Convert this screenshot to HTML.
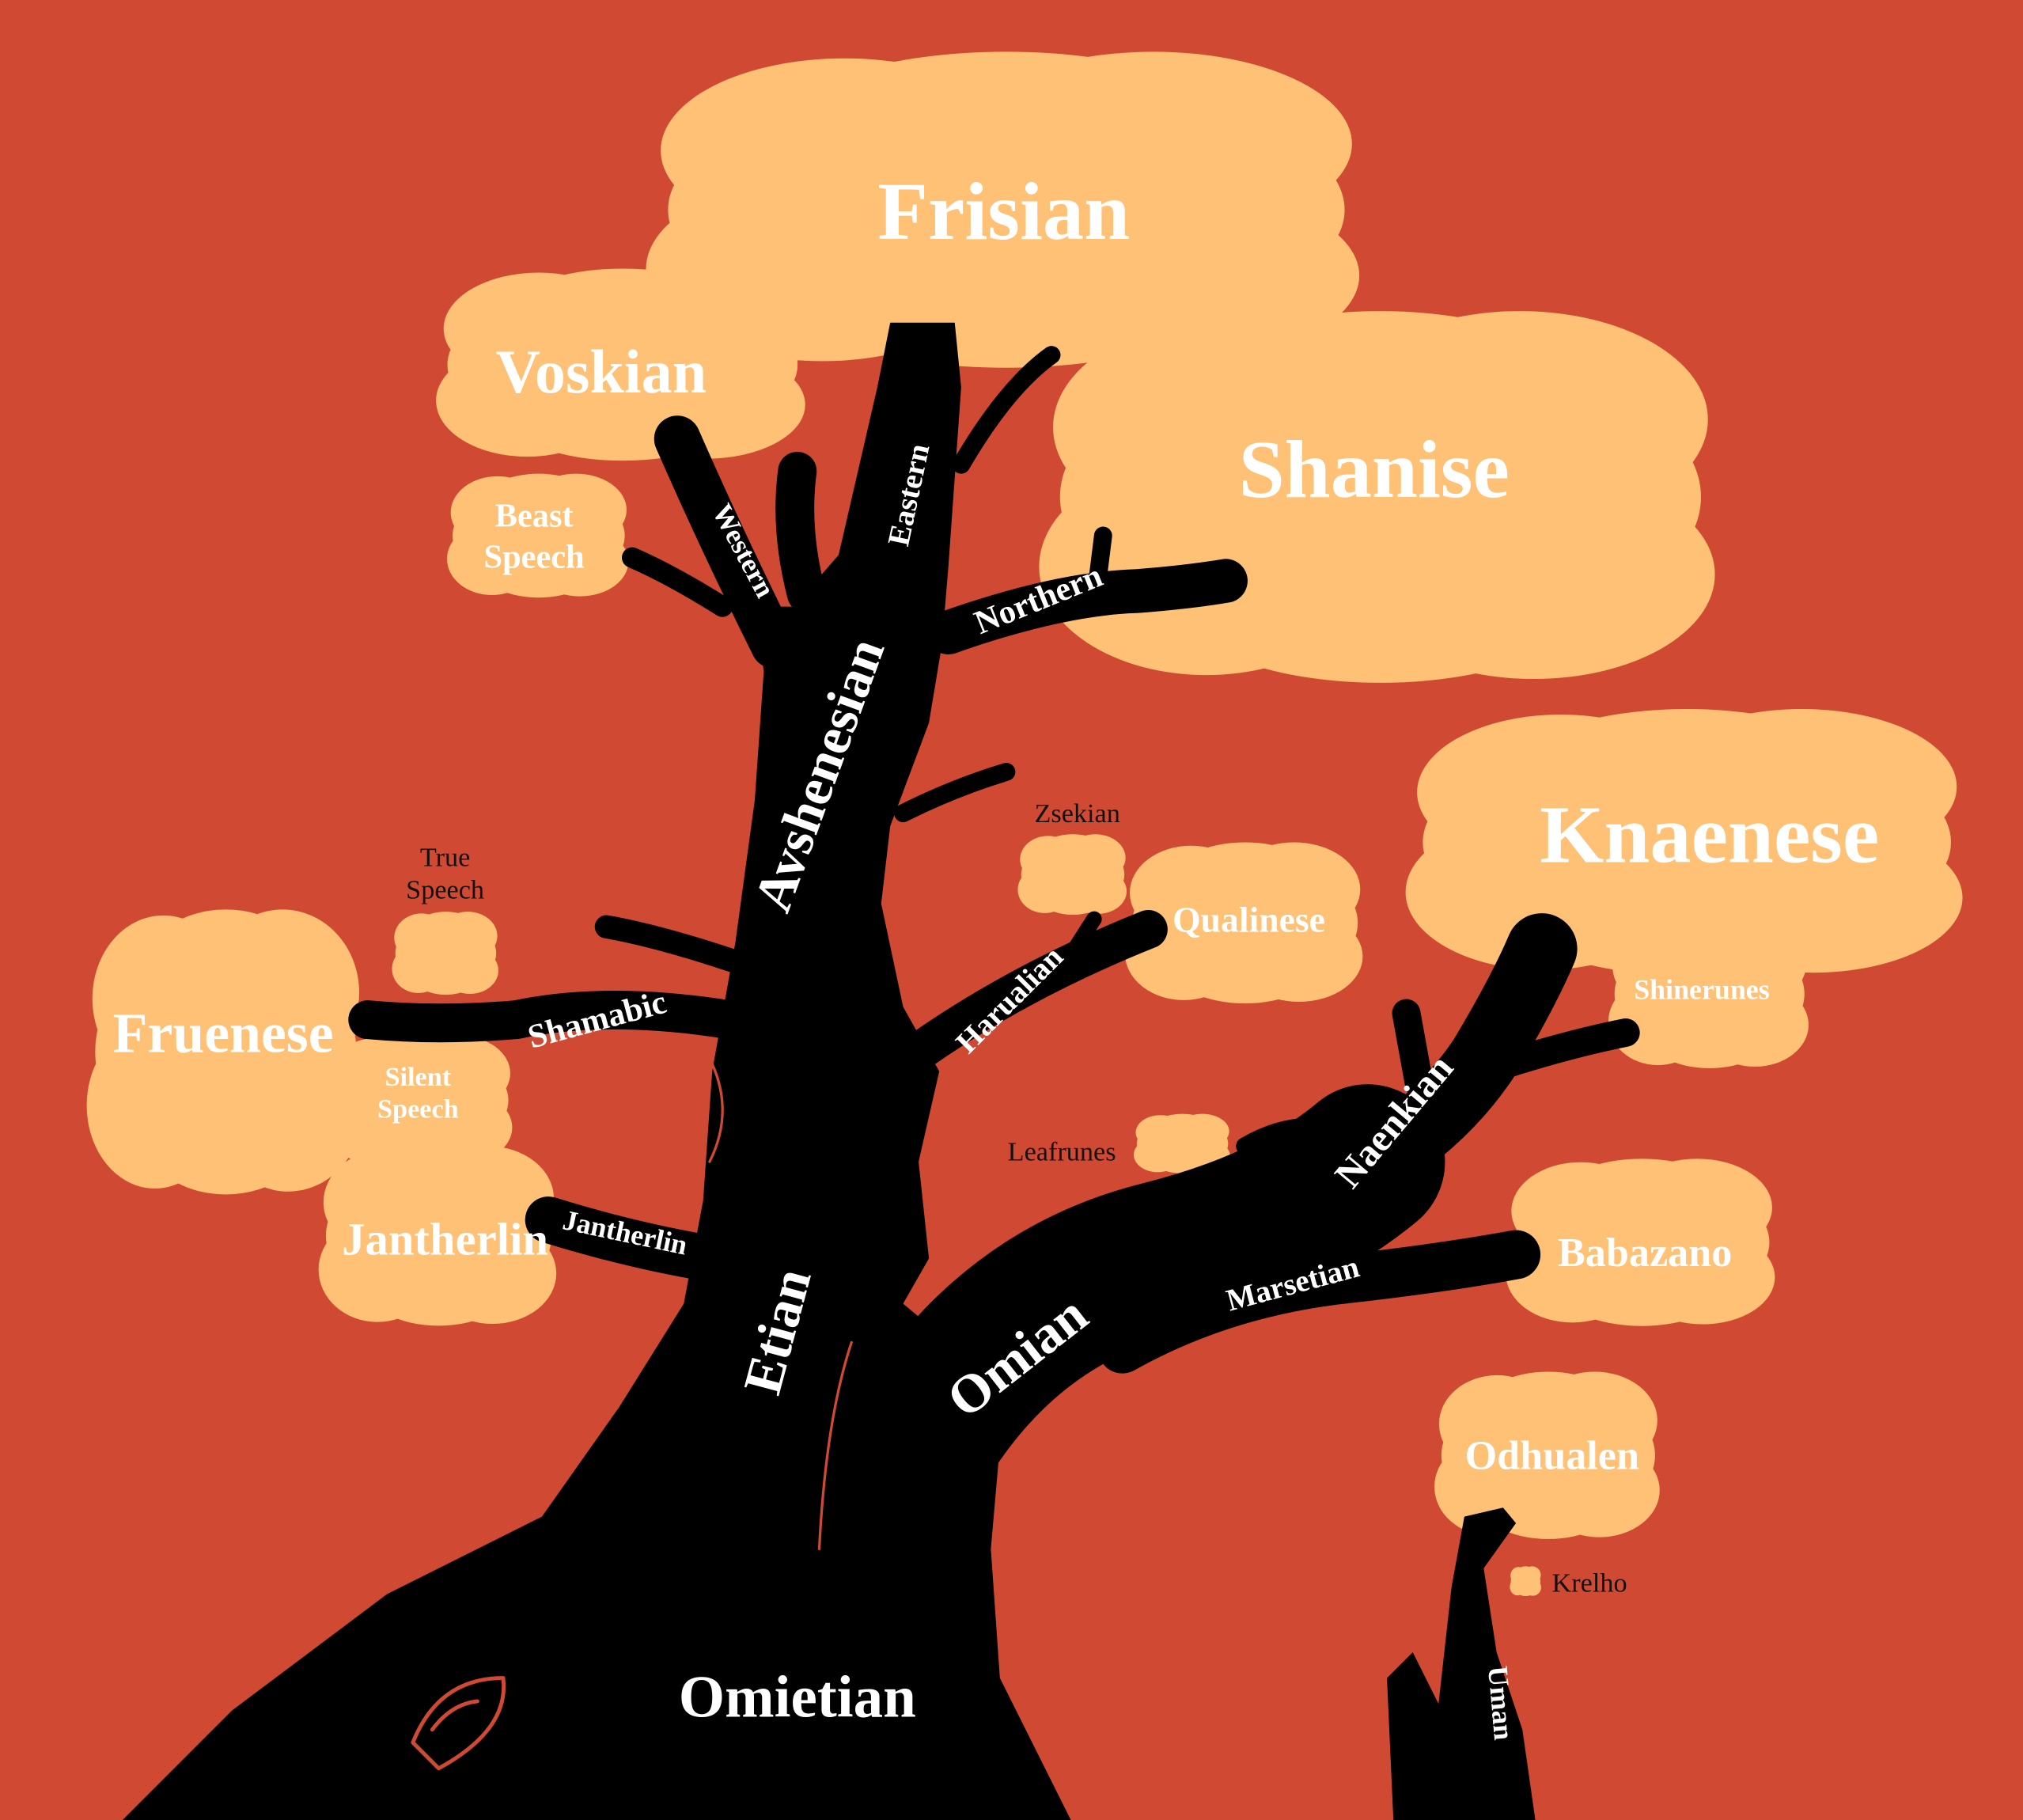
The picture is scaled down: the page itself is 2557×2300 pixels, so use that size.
<!DOCTYPE html>
<html><head><meta charset="utf-8"><style>
html,body{margin:0;padding:0;background:#D04A33;}
svg{display:block;}
text{font-family:"Liberation Serif",serif;font-weight:bold;}
</style></head><body>
<svg id="tree" width="2557" height="2300" viewBox="0 0 1568 1410" preserveAspectRatio="none" xmlns="http://www.w3.org/2000/svg">
<rect x="0" y="0" width="1568" height="1410" fill="#D04A33"/>
<g id="clouds" fill="#FFC175"></g>
<g id="wood" fill="#000" stroke="#000" stroke-linecap="round" stroke-linejoin="round">
  <polygon stroke="none" points="95,1410 180,1325 300,1235 420,1175 480,1090 530,1010 545,930 552,830 570,730 585,620 592,520 585,470 615,470 650,430 680,300 690,250 740,250 745,300 735,440 730,500 720,560 690,640 683,700 700,780 728,830 712,900 720,975 700,1010 760,1060 775,1120 768,1200 775,1300 830,1410"/>
  <path fill="none" stroke-width="120" d="M690,1160 Q760,1010 900,975 Q1000,950 1060,900"/>
  <path fill="none" stroke-width="55" d="M1030,920 Q1110,880 1150,820 Q1180,770 1195,735"/>
  <path fill="none" stroke-width="22" d="M1150,830 Q1210,810 1260,800"/>
  <path fill="none" stroke-width="22" d="M1100,840 L1090,785"/>
  <path fill="none" stroke-width="14" d="M1030,875 Q1000,868 965,888"/>
  <path fill="none" stroke-width="38" d="M870,1045 Q950,1000 1050,990 Q1120,982 1175,972"/>
  <path fill="none" stroke-width="30" d="M712,815 Q790,760 890,720"/>
  <path fill="none" stroke-width="12" d="M830,740 L848,712"/>
  <path fill="none" stroke-width="14" d="M700,630 Q740,610 780,598"/>
  <path fill="none" stroke-width="34" d="M735,490 Q820,460 880,458 Q920,455 950,450"/>
  <path fill="none" stroke-width="14" d="M850,455 L855,415"/>
  <path fill="none" stroke-width="14" d="M745,360 Q780,300 815,275"/>
  <path fill="none" stroke-width="36" d="M600,500 Q560,420 525,340"/>
  <path fill="none" stroke-width="30" d="M625,460 Q612,410 618,365"/>
  <path fill="none" stroke-width="16" d="M560,470 Q520,445 490,432"/>
  <path fill="none" stroke-width="30" d="M565,790 Q470,775 400,790 Q340,795 285,790"/>
  <path fill="none" stroke-width="18" d="M570,745 Q510,725 470,718"/>
  <path fill="none" stroke-width="36" d="M550,975 Q490,965 425,945"/>
  <polygon stroke="none" points="1080,1410 1075,1300 1095,1280 1115,1320 1125,1230 1135,1175 1165,1168 1175,1180 1150,1215 1160,1280 1180,1340 1190,1410"/>
  <path fill="none" stroke="#D04A33" stroke-width="3" d="M320,1350 Q340,1300 390,1300 Q395,1340 340,1370 Z M335,1340 Q350,1320 370,1318"/>
  <path fill="none" stroke="#D04A33" stroke-width="2" d="M660,1040 Q640,1100 635,1200 M550,820 Q570,860 550,900"/>
</g>
<g id="labels"></g>
</svg>
<script>
const cloudNames = ["frisian","voskian","beast-speech","shanise","knaenese","shinerunes","qualinese","zsekian","true-speech","fruenese","silent-speech","jantherlin","leafrunes","babazano","odhualen","krelho"];
const cloudBoxes = [[495,35,1065,290],[335,205,630,360],[345,365,490,465],[800,235,1340,535],[1085,545,1530,760],[1245,710,1405,830],[870,650,1060,780],[788,645,875,710],[303,705,388,772],[65,700,285,930],[250,800,400,905],[245,885,435,1030],[878,862,955,910],[1165,895,1380,1030],[1110,1060,1290,1195],[1170,1213,1195,1237]];
const labelText = ["Frisian","Voskian","Beast","Speech","Shanise","Knaenese","Shinerunes","Qualinese","Zsekian","True","Speech","Fruenese","Silent","Speech","Jantherlin","Leafrunes","Babazano","Odhualen","Krelho","Western","Eastern","Northern","Avshenesian","Harualian","Shamabic","Jantherlin","Etian","Omian","Naenkian","Marsetian","Omietian","Uman"];
const labelX = [778,466,414,414,1065,1325,1319,968,835,345,345,173,324,324,345,823,1275,1203,1232,570,712,808,648,788,465,483,616,797,1088,1004,618,1156];
const labelY = [185,304,408,440,385,668,774,722,637,671,696,815,841,866,972,899,981,1138,1233,430,385,472,605,780,798,962,1035,1062,875,1002,1330,1320];
const labelSize = [64,48,26,26,64,64,22,28,21,21,21,44,21,21,36,21,32,32,21,22,24,26,42,24,26,22,42,42,30,24,46,22];
const labelRot = [0,0,0,0,0,0,0,0,0,0,0,0,0,0,0,0,0,0,0,62,-78,-22,-70,-45,-15,12,-75,-38,-50,-15,0,85];
const labelDark = [0,0,0,0,0,0,0,0,1,1,1,0,0,0,0,1,0,0,1,0,0,0,0,0,0,0,0,0,0,0,0,0];
const NS="http://www.w3.org/2000/svg";
const cg=document.getElementById('clouds');
cloudBoxes.forEach((b,i)=>{
  const g=document.createElementNS(NS,'g');
  
  
  const w=b[2]-b[0],h=b[3]-b[1],cx=(b[0]+b[2])/2,cy=(b[1]+b[3])/2;
  const parts=[[0,0,0.46,0.40],[-0.22,-0.18,0.25,0.28],[0.2,-0.2,0.27,0.28],[-0.25,0.18,0.24,0.28],[0.22,0.2,0.26,0.27],[0,-0.26,0.3,0.22],[0,0.26,0.3,0.22]];
  parts.forEach(p=>{
    const e=document.createElementNS(NS,'ellipse');
    e.setAttribute('cx',cx+p[0]*w);e.setAttribute('cy',cy+p[1]*h);
    e.setAttribute('rx',p[2]*w);e.setAttribute('ry',p[3]*h);
    g.appendChild(e);
  });
  cg.appendChild(g);
});
const lg=document.getElementById('labels');
labelText.forEach((t,i)=>{
  const el=document.createElementNS(NS,'text');
  
  
  el.setAttribute('x',labelX[i]);el.setAttribute('y',labelY[i]);
  el.setAttribute('font-size',labelSize[i]);
  el.setAttribute('text-anchor','middle');
  el.setAttribute('fill',labelDark[i]?'#111':'#fff');
  if(labelDark[i]) el.style.fontWeight='normal';
  if(labelRot[i]) el.setAttribute('transform','rotate('+labelRot[i]+' '+labelX[i]+' '+labelY[i]+')');
  el.textContent=t;
  lg.appendChild(el);
});
</script>
</body></html>
